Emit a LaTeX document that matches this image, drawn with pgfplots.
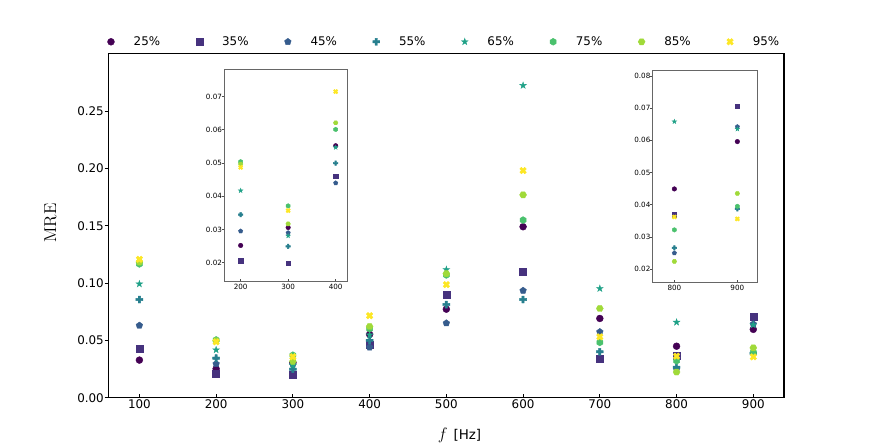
\documentclass[border=0pt]{standalone}
\usepackage{pgfplots}
\pgfplotsset{compat=1.18}
\usepackage{pgfplotstable}
\usepackage{fontspec}
\newfontfamily\dejavu{DejaVu Sans}
\usetikzlibrary{plotmarks}

\definecolor{c1}{HTML}{440154}
\definecolor{c2}{HTML}{46327E}
\definecolor{c3}{HTML}{365C8D}
\definecolor{c4}{HTML}{277F8E}
\definecolor{c5}{HTML}{1FA187}
\definecolor{c6}{HTML}{4AC16D}
\definecolor{c7}{HTML}{A0DA39}
\definecolor{c8}{HTML}{FDE725}

\pgfdeclareplotmark{fstar}{%
  \pgfpathmoveto{\pgfpointpolar{90}{\pgfplotmarksize}}%
  \pgfpathlineto{\pgfpointpolar{126}{0.382\pgfplotmarksize}}%
  \pgfpathlineto{\pgfpointpolar{162}{\pgfplotmarksize}}%
  \pgfpathlineto{\pgfpointpolar{198}{0.382\pgfplotmarksize}}%
  \pgfpathlineto{\pgfpointpolar{234}{\pgfplotmarksize}}%
  \pgfpathlineto{\pgfpointpolar{270}{0.382\pgfplotmarksize}}%
  \pgfpathlineto{\pgfpointpolar{306}{\pgfplotmarksize}}%
  \pgfpathlineto{\pgfpointpolar{342}{0.382\pgfplotmarksize}}%
  \pgfpathlineto{\pgfpointpolar{18}{\pgfplotmarksize}}%
  \pgfpathlineto{\pgfpointpolar{54}{0.382\pgfplotmarksize}}%
  \pgfpathclose\pgfusepathqfillstroke}
\pgfdeclareplotmark{hexh}{%
  \pgfpathmoveto{\pgfpointpolar{90}{\pgfplotmarksize}}%
  \pgfpathlineto{\pgfpointpolar{150}{\pgfplotmarksize}}%
  \pgfpathlineto{\pgfpointpolar{210}{\pgfplotmarksize}}%
  \pgfpathlineto{\pgfpointpolar{270}{\pgfplotmarksize}}%
  \pgfpathlineto{\pgfpointpolar{330}{\pgfplotmarksize}}%
  \pgfpathlineto{\pgfpointpolar{30}{\pgfplotmarksize}}%
  \pgfpathclose\pgfusepathqfillstroke}
\pgfdeclareplotmark{hexH}{%
  \pgfpathmoveto{\pgfpointpolar{0}{\pgfplotmarksize}}%
  \pgfpathlineto{\pgfpointpolar{60}{\pgfplotmarksize}}%
  \pgfpathlineto{\pgfpointpolar{120}{\pgfplotmarksize}}%
  \pgfpathlineto{\pgfpointpolar{180}{\pgfplotmarksize}}%
  \pgfpathlineto{\pgfpointpolar{240}{\pgfplotmarksize}}%
  \pgfpathlineto{\pgfpointpolar{300}{\pgfplotmarksize}}%
  \pgfpathclose\pgfusepathqfillstroke}
\pgfdeclareplotmark{fplus}{%
  \pgfpathmoveto{\pgfpointpolar{71.57}{1.054\pgfplotmarksize}}%
  \pgfpathlineto{\pgfpointpolar{45}{0.4714\pgfplotmarksize}}%
  \pgfpathlineto{\pgfpointpolar{18.43}{1.054\pgfplotmarksize}}%
  \pgfpathlineto{\pgfpointpolar{-18.43}{1.054\pgfplotmarksize}}%
  \pgfpathlineto{\pgfpointpolar{-45}{0.4714\pgfplotmarksize}}%
  \pgfpathlineto{\pgfpointpolar{-71.57}{1.054\pgfplotmarksize}}%
  \pgfpathlineto{\pgfpointpolar{-108.43}{1.054\pgfplotmarksize}}%
  \pgfpathlineto{\pgfpointpolar{-135}{0.4714\pgfplotmarksize}}%
  \pgfpathlineto{\pgfpointpolar{-161.57}{1.054\pgfplotmarksize}}%
  \pgfpathlineto{\pgfpointpolar{161.57}{1.054\pgfplotmarksize}}%
  \pgfpathlineto{\pgfpointpolar{135}{0.4714\pgfplotmarksize}}%
  \pgfpathlineto{\pgfpointpolar{108.43}{1.054\pgfplotmarksize}}%
  \pgfpathclose\pgfusepathqfillstroke}
\pgfdeclareplotmark{fx}{%
  \pgfpathmoveto{\pgfpointpolar{116.57}{1.054\pgfplotmarksize}}%
  \pgfpathlineto{\pgfpointpolar{90}{0.4714\pgfplotmarksize}}%
  \pgfpathlineto{\pgfpointpolar{63.43}{1.054\pgfplotmarksize}}%
  \pgfpathlineto{\pgfpointpolar{26.57}{1.054\pgfplotmarksize}}%
  \pgfpathlineto{\pgfpointpolar{0}{0.4714\pgfplotmarksize}}%
  \pgfpathlineto{\pgfpointpolar{-26.57}{1.054\pgfplotmarksize}}%
  \pgfpathlineto{\pgfpointpolar{-63.43}{1.054\pgfplotmarksize}}%
  \pgfpathlineto{\pgfpointpolar{-90}{0.4714\pgfplotmarksize}}%
  \pgfpathlineto{\pgfpointpolar{-116.57}{1.054\pgfplotmarksize}}%
  \pgfpathlineto{\pgfpointpolar{-153.43}{1.054\pgfplotmarksize}}%
  \pgfpathlineto{\pgfpointpolar{180}{0.4714\pgfplotmarksize}}%
  \pgfpathlineto{\pgfpointpolar{153.43}{1.054\pgfplotmarksize}}%
  \pgfpathclose\pgfusepathqfillstroke}

\pgfplotstableread{
f   p25    p35    p45    p55    p65    p75    p85    p95
100 0.0328 0.0430 0.0630 0.0856 0.0992 0.1166 0.1183 0.1207
200 0.0252 0.0207 0.0295 0.0345 0.0417 0.0504 0.0497 0.0487
300 0.0306 0.0199 0.0290 0.0249 0.0281 0.0371 0.0317 0.0357
400 0.0552 0.0460 0.0440 0.0500 0.0547 0.0601 0.0621 0.0715
500 0.0772 0.0899 0.0650 0.0812 0.1117 0.1070 0.1082 0.0986
600 0.1491 0.1102 0.0934 0.0856 0.2723 0.1549 0.1769 0.1981
700 0.0691 0.0342 0.0574 0.0400 0.0952 0.0482 0.0778 0.0531
800 0.0449 0.0369 0.0250 0.0266 0.0658 0.0322 0.0224 0.0362
900 0.0596 0.0706 0.0642 0.0387 0.0635 0.0395 0.0435 0.0356
}\data

\pgfplotsset{
  s1/.style={only marks, mark=*,         color=c1, mark options={fill=c1, draw=c1, line width=0.3pt}},
  s2/.style={only marks, mark=square*,   color=c2, mark options={fill=c2, draw=c2, line width=0.3pt}},
  s3/.style={only marks, mark=pentagon*, color=c3, mark options={fill=c3, draw=c3, line width=0.3pt}},
  s4/.style={only marks, mark=fplus,     color=c4, mark options={fill=c4, draw=c4, line width=0.3pt}},
  s5/.style={only marks, mark=fstar,     color=c5, mark options={fill=c5, draw=c5, line width=0.3pt}},
  s6/.style={only marks, mark=hexh,      color=c6, mark options={fill=c6, draw=c6, line width=0.3pt}},
  s7/.style={only marks, mark=hexH,      color=c7, mark options={fill=c7, draw=c7, line width=0.3pt}},
  s8/.style={only marks, mark=fx,        color=c8, mark options={fill=c8, draw=c8, line width=0.3pt}},
}

\begin{document}
\begin{tikzpicture}
\useasboundingbox (0,0) rectangle (8.72in,4.47in);
\begin{axis}[
  at={(1.087in,0.493in)}, anchor=south west,
  width=6.753in, height=3.44in, scale only axis,
  xmin=60, xmax=940, ymin=0, ymax=0.3,
  xtick={100,200,300,400,500,600,700,800,900},
  ytick={0,0.05,0.1,0.15,0.2,0.25},
  xtick pos=bottom, ytick pos=left,
  tick align=inside, major tick length=3pt,
  ytick style={xshift=-3pt},
  axis line style={line width=0.9pt},
  tick style={line width=0.7pt, black},
  tick label style={font=\dejavu\fontsize{8.6}{10}\selectfont},
  /pgf/number format/assume math mode=true,
  scaled y ticks=false,
  yticklabel style={/pgf/number format/.cd, fixed, fixed zerofill, precision=2},
  xticklabel style={inner sep=1.5pt},
  ylabel={\fontsize{12.4}{14}\selectfont MRE},
  every axis y label/.style={at={(axis description cs:-0.0862,0.508)}, rotate=90, anchor=center},
  xlabel={\fontsize{13}{15}\selectfont $f$ {\dejavu\fontsize{9.7}{12}\selectfont [Hz]}},
  every axis x label/.style={at={(axis description cs:0.5195,-0.1084)}, anchor=center},
  every axis plot post/.append style={mark size=2.5pt},
  legend columns=8,
  legend style={draw=none, fill=none, at={(0.5,1)}, anchor=center, yshift=8.6pt, xshift=-3pt,
    font=\dejavu\fontsize{8.6}{10}\selectfont,
    /tikz/every even column/.append style={column sep=20.2pt}},
  legend image code/.code={\path (0pt,0pt) (20.2pt,0pt); \draw[#1] plot coordinates {(6pt,0pt)};},
]
\addplot[s1] table[x=f,y=p25]{\data}; \addlegendentry{25\%}
\addplot[s2] table[x=f,y=p35]{\data}; \addlegendentry{35\%}
\addplot[s3] table[x=f,y=p45]{\data}; \addlegendentry{45\%}
\addplot[s4] table[x=f,y=p55]{\data}; \addlegendentry{55\%}
\addplot[s5] table[x=f,y=p65]{\data}; \addlegendentry{65\%}
\addplot[s6] table[x=f,y=p75]{\data}; \addlegendentry{75\%}
\addplot[s7] table[x=f,y=p85]{\data}; \addlegendentry{85\%}
\addplot[s8] table[x=f,y=p95]{\data}; \addlegendentry{95\%}
\end{axis}

\pgfplotsset{inset/.style={
  anchor=south west, scale only axis,
  axis background/.style={fill=white},
  xtick pos=bottom, ytick pos=left,
  tick align=inside, major tick length=2pt,
  ytick style={xshift=-2pt},
  axis line style={line width=0.8pt, black!60},
  tick style={line width=0.5pt, black!70},
  tick label style={font=\dejavu\fontsize{5.2}{6}\selectfont},
  /pgf/number format/assume math mode=true,
  scaled y ticks=false,
  yticklabel style={/pgf/number format/.cd, fixed, fixed zerofill, precision=2, /tikz/inner sep=1.5pt},
  xticklabel style={inner sep=1.5pt},
  every axis plot post/.append style={mark size=1.65pt},
}}

\begin{axis}[inset,
  at={(2.243in,1.653in)}, width=1.234in, height=2.124in,
  xmin=165.6, xmax=425.3, ymin=0.0143, ymax=0.0782,
  xtick={200,300,400}, ytick={0.02,0.03,0.04,0.05,0.06,0.07},
  restrict x to domain=150:450,
]
\addplot[s1] table[x=f,y=p25]{\data};
\addplot[s2] table[x=f,y=p35]{\data};
\addplot[s3] table[x=f,y=p45]{\data};
\addplot[s4] table[x=f,y=p55]{\data};
\addplot[s5] table[x=f,y=p65]{\data};
\addplot[s6] table[x=f,y=p75]{\data};
\addplot[s7] table[x=f,y=p85]{\data};
\addplot[s8] table[x=f,y=p95]{\data};
\end{axis}

\begin{axis}[inset,
  at={(6.527in,1.643in)}, width=1.05in, height=2.12in,
  xmin=765.6, xmax=932.3, ymin=0.0158, ymax=0.0816,
  xtick={800,900}, ytick={0.02,0.03,0.04,0.05,0.06,0.07,0.08},
  restrict x to domain=750:950,
]
\addplot[s1] table[x=f,y=p25]{\data};
\addplot[s2] table[x=f,y=p35]{\data};
\addplot[s3] table[x=f,y=p45]{\data};
\addplot[s4] table[x=f,y=p55]{\data};
\addplot[s5] table[x=f,y=p65]{\data};
\addplot[s6] table[x=f,y=p75]{\data};
\addplot[s7] table[x=f,y=p85]{\data};
\addplot[s8] table[x=f,y=p95]{\data};
\end{axis}
\end{tikzpicture}
\end{document}
